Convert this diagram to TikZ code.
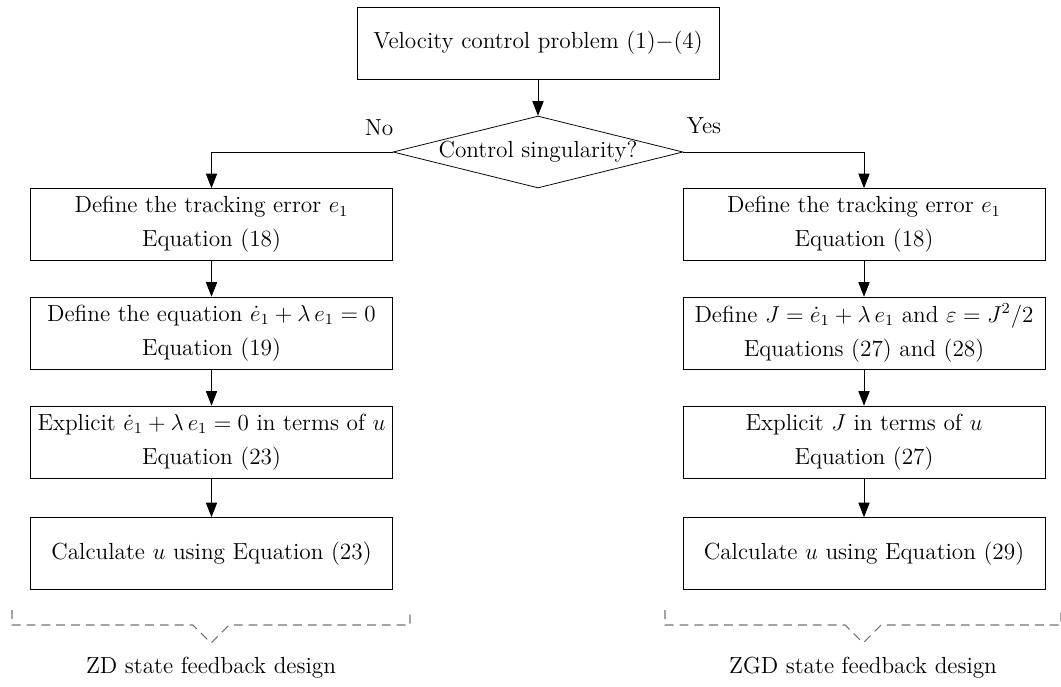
\documentclass[tikz,border=0pt]{standalone}
\usetikzlibrary{shapes.geometric,arrows.meta}
\begin{document}
\begin{tikzpicture}[x=0.52pt,y=-0.52pt,
  every node/.style={font=\fontsize{12.1pt}{17.7pt}\selectfont},
  box/.style={draw,rectangle,minimum width=188.2pt,minimum height=37.4pt,inner sep=0pt,align=center},
  decision/.style={draw,diamond,shape aspect=4,minimum width=150.8pt,minimum height=37.4pt,inner sep=0pt},
  arr/.style={-{Triangle[length=7.5pt,width=5.8pt]}},
  bracestyle/.style={black!55,line width=0.55pt,dash pattern=on 4.6pt off 3.1pt},
  lbl/.style={inner sep=0pt}]
\useasboundingbox (0,0) rectangle (1061,686);
\node[box] (top) at (538,43) {Velocity control problem (1)$-$(4)};
\node[decision] (dec) at (538,152) {Control singularity?};
% left column
\node[box] (l1) at (211.5,224.5) {Define the tracking error $e_1$\\Equation (18)};
\node[box] (l2) at (211.5,333) {Define the equation $\dot e_1+\lambda\,e_1=0$\\Equation (19)};
\node[box] (l3) at (211.5,442) {Explicit $\dot e_1+\lambda\,e_1=0$ in terms of $u$\\Equation (23)};
\node[box] (l4) at (211.5,553.5) {Calculate $u$ using Equation (23)};
% right column
\node[box] (r1) at (864,224.5) {Define the tracking error $e_1$\\Equation (18)};
\node[box] (r2) at (864,333) {Define $J=\dot e_1+\lambda\,e_1$ and $\varepsilon=J^2/2$\\Equations (27) and (28)};
\node[box] (r3) at (864,442) {Explicit $J$ in terms of $u$\\Equation (27)};
\node[box] (r4) at (864,553.5) {Calculate $u$ using Equation (29)};
% labels
\node[lbl] (no) at (379,128) {No};
\node[lbl] (yes) at (704,126) {Yes};
% connectors
\draw[arr] (top) -- (dec);
\draw[arr] (dec.west) -| (l1.north);
\draw[arr] (dec.east) -| (r1.north);
\draw[arr] (l1) -- (l2);
\draw[arr] (l2) -- (l3);
\draw[arr] (l3) -- (l4);
\draw[arr] (r1) -- (r2);
\draw[arr] (r2) -- (r3);
\draw[arr] (r3) -- (r4);
% braces
\draw[bracestyle] (12,610) -- (12,625) -- (193,625) -- (211,643) -- (229,625) -- (410,625) -- (410,610);
\draw[bracestyle] (665,610) -- (665,625) -- (845,625) -- (863,643) -- (881,625) -- (1061,625) -- (1061,610);
\node (zd) at (211,668) {ZD state feedback design};
\node (zgd) at (863,668) {ZGD state feedback design};
\end{tikzpicture}
\end{document}
